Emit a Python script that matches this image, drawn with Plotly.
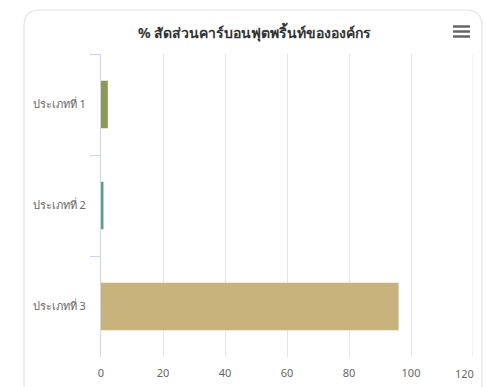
import plotly.graph_objects as go

categories = ["ประเภทที่ 1", "ประเภทที่ 2", "ประเภทที่ 3"]
values = [2.2, 0.8, 96]
colors = ["#8a9b55", "#5e9e83", "#c8b37c"]
title_text = "% สัดส่วนคาร์บอนฟุตพริ้นท์ขององค์กร"
x_ticks = [0, 20, 40, 60, 80, 100, 120]
x_max = 120

W, H = 486, 387
L, R, T, B = 101, 13, 54, 30
pw, ph = W - L - R, H - T - B

def px(x):
    return (x - L) / pw

def py(y):
    return (H - B - y) / ph

fig = go.Figure()
fig.add_trace(go.Bar(
    y=categories, x=values, orientation="h",
    marker=dict(color=colors, line=dict(width=0)),
    width=0.47, hoverinfo="skip",
))

# card with rounded corners
x0, x1, y0, y1, r = 24, 482, 10, 400, 16
path = (
    f"M {px(x0 + r)},{py(y0)} L {px(x1 - r)},{py(y0)} "
    f"Q {px(x1)},{py(y0)} {px(x1)},{py(y0 + r)} "
    f"L {px(x1)},{py(y1 - r)} Q {px(x1)},{py(y1)} {px(x1 - r)},{py(y1)} "
    f"L {px(x0 + r)},{py(y1)} Q {px(x0)},{py(y1)} {px(x0)},{py(y1 - r)} "
    f"L {px(x0)},{py(y0 + r)} Q {px(x0)},{py(y0)} {px(x0 + r)},{py(y0)} Z"
)
shapes = [dict(type="path", xref="paper", yref="paper", path=path,
               line=dict(color="#e4e4e4", width=1.2), fillcolor="rgba(0,0,0,0)",
               layer="below")]
# last gridline (plotly skips grid at the range edge)
shapes.append(dict(type="line", xref="x", yref="paper", x0=x_max, x1=x_max,
                   y0=0, y1=1, line=dict(color="#e6e6e6", width=1), layer="below"))
# menu icon
for yy in (26.5, 31.5, 36.5):
    shapes.append(dict(type="line", xref="paper", yref="paper",
                       x0=px(453), x1=px(470), y0=py(yy), y1=py(yy),
                       line=dict(color="#666666", width=2.5)))

annotations = [dict(
    text=f"<b>{title_text}</b>", xref="paper", yref="paper",
    x=px(254), y=py(32), xanchor="center", yanchor="middle",
    showarrow=False, font=dict(size=14, color="#333333"),
)]
# last tick label, justified inside the chart like the original
annotations.append(dict(
    text=str(x_max), xref="x", yref="paper", x=x_max, y=0,
    xanchor="center", yanchor="top", xshift=-9, yshift=-7,
    showarrow=False, font=dict(size=11, color="#666666"),
))

fig.update_layout(
    width=W, height=H,
    margin=dict(l=L, r=R, t=T, b=B, autoexpand=False),
    paper_bgcolor="white", plot_bgcolor="white",
    showlegend=False,
    bargap=0.53,
    shapes=shapes,
    annotations=annotations,
    font=dict(family="Noto Sans, DejaVu Sans, sans-serif"),
    xaxis=dict(
        range=[0, x_max], tickvals=x_ticks,
        ticktext=[str(v) if v != x_max else "" for v in x_ticks],
        showgrid=True, gridcolor="#e6e6e6", gridwidth=1,
        zeroline=False, showline=False, ticks="",
        tickfont=dict(size=11, color="#666666"),
        ticklabelstandoff=8,
        automargin=False,
        fixedrange=True,
    ),
    yaxis=dict(
        categoryorder="array", categoryarray=categories, autorange="reversed",
        showline=True, linecolor="#ccd6eb", linewidth=1,
        ticks="outside", tickson="boundaries", ticklen=10, tickcolor="#ccd6eb",
        showgrid=False, zeroline=False,
        tickfont=dict(size=11, color="#666666"),
        ticklabelstandoff=12,
        automargin=False,
        fixedrange=True,
    ),
)

fig.write_html("out.html", config={"displayModeBar": False})
